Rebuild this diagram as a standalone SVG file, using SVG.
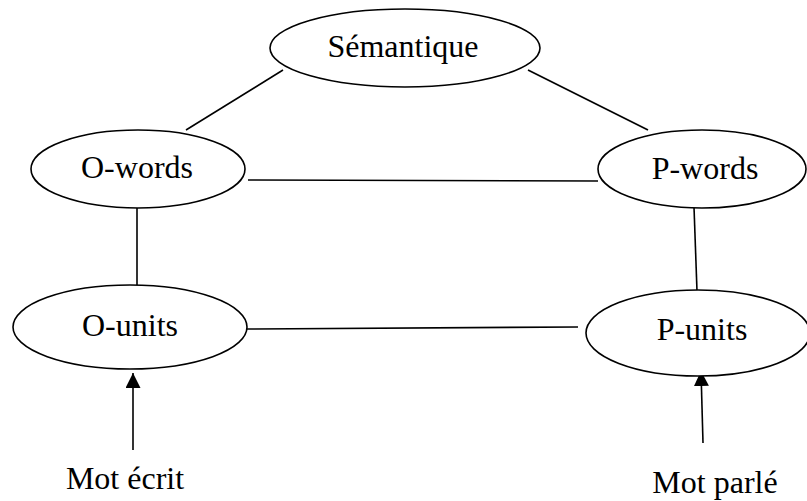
<svg xmlns="http://www.w3.org/2000/svg" width="807" height="501" viewBox="0 0 807 501">
<style>
.node ellipse{fill:#fff;stroke:#000;stroke-width:1.6}
text{font-family:"Liberation Serif","Times New Roman",serif;font-size:32px;fill:#000;text-anchor:middle}
.conn line{stroke:#000;stroke-width:1.6}
</style>
<defs>
<marker id="ah" markerWidth="16" markerHeight="16" refX="15" refY="7.5" orient="auto" markerUnits="userSpaceOnUse">
<path d="M0,0 L15,7.5 L0,15 Z" fill="#000"/>
</marker>
</defs>
<rect width="807" height="501" fill="#fff"/>
<g id="connectors" class="conn">
<line x1="186" y1="130" x2="283" y2="70"/>
<line x1="528" y1="70" x2="648" y2="130"/>
<line x1="248" y1="180" x2="598" y2="181"/>
<line x1="137" y1="208" x2="137" y2="285"/>
<line x1="694" y1="207" x2="697" y2="291"/>
<line x1="247" y1="329" x2="578" y2="327"/>
<line x1="133" y1="450" x2="133" y2="373" marker-end="url(#ah)"/>
<line x1="703" y1="443" x2="701" y2="371" marker-end="url(#ah)"/>
</g>
<g id="semantique" class="node">
<ellipse cx="405" cy="48" rx="135" ry="39"/>
<text x="403" y="57">Sémantique</text>
</g>
<g id="owords" class="node">
<ellipse cx="138" cy="169" rx="107" ry="39"/>
<text x="137" y="178">O-words</text>
</g>
<g id="pwords" class="node">
<ellipse cx="702" cy="169" rx="104" ry="39"/>
<text x="705" y="179">P-words</text>
</g>
<g id="ounits" class="node">
<ellipse cx="130" cy="327" rx="117" ry="42"/>
<text x="130" y="336">O-units</text>
</g>
<g id="punits" class="node">
<ellipse cx="698" cy="333" rx="112" ry="43"/>
<text x="702" y="340">P-units</text>
</g>
<g id="mot-ecrit">
<text x="125" y="489">Mot écrit</text>
</g>
<g id="mot-parle">
<text x="715" y="493">Mot parlé</text>
</g>
</svg>
